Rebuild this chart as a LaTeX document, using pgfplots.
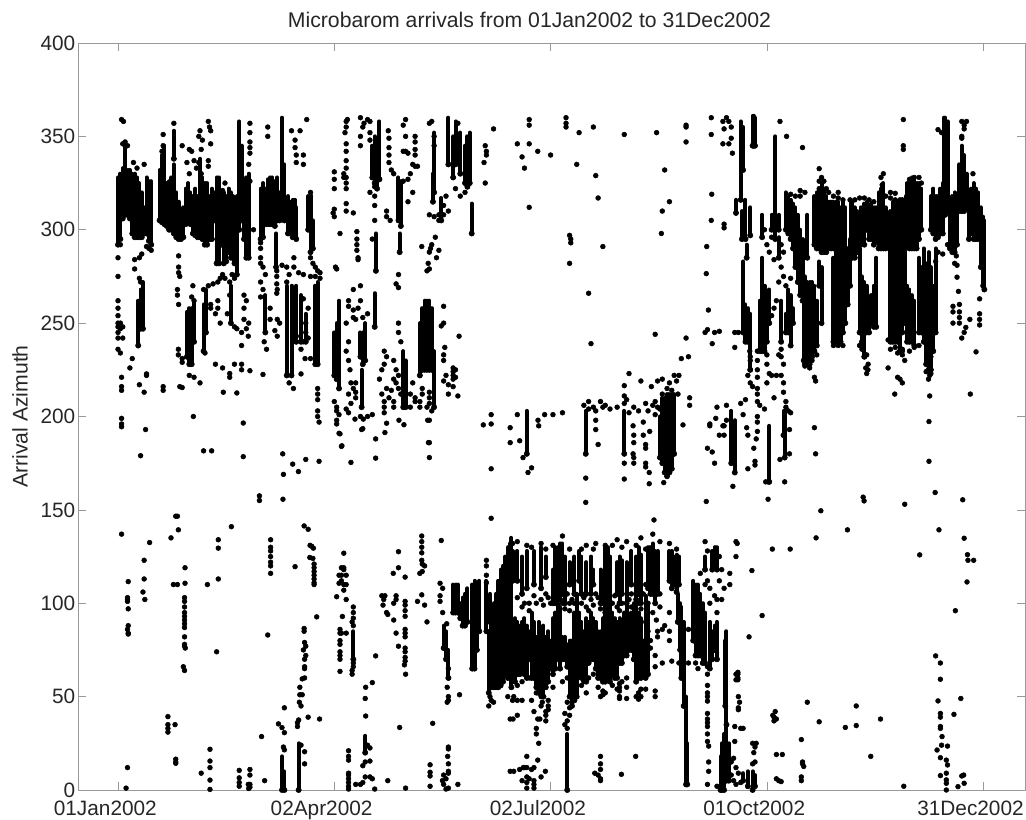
\documentclass[border=0pt]{standalone}
\usepackage{fontspec}
\setmainfont{Liberation Sans}
\usepackage{pgfplots}
\usepackage{pgfplotstable}
\pgfplotsset{compat=1.18}
% dense stretches of overlapping dots: day, lowest and highest azimuth of the stretch
\pgfplotstableread[row sep=\\]{
d lo hi\\
0 292 328\\ 1 295 330\\ 2 306 333\\ 3 308 346\\ 4 308 332\\ 5 306 332\\ 6 298 330\\ 7 296 330\\ 8 296 328\\ 9 296 325\\ 10 296 320\\ 11 298 312\\ 12 298 328\\ 13 294 326\\ 14 292 326\\
8.5 238 262\\ 9.5 247 268\\ 10.5 247 272\\
17.5 305 332\\ 18.5 304 340\\ 19.5 303 345\\ 20.5 302 325\\ 21.5 300 326\\ 22.5 300 328\\ 23.5 298 335\\ 23.5 338 353\\ 24.5 296 320\\ 25.5 295 315\\ 26.5 295 310\\
27.5 296 312\\ 28.5 303 322\\ 29.5 305 325\\ 30.5 303 320\\ 31.5 298 318\\ 32.5 297 322\\ 33.5 296 318\\ 34.5 296 338\\ 35.5 295 328\\ 36.5 292 325\\ 37.5 292 325\\ 38.5 295 318\\ 39.5 295 322\\ 40.5 305 320\\
41.5 282 328\\ 42.5 282 328\\ 43.5 292 320\\ 44.5 282 320\\ 45.5 283 318\\ 46.5 288 322\\ 47.5 285 320\\ 48.5 288 318\\ 49 282 316\\ 50 276 318\\ 51 300 358\\ 52 305 345\\ 53 295 320\\ 54 285 328\\ 55 285 330\\
29 232 256\\ 30 228 258\\ 31 228 258\\ 32 240 262\\ 36 235 260\\ 37 245 268\\ 47.5 250 270\\ 62 245 265\\
60 295 322\\ 61 296 325\\ 62 303 322\\ 63 303 327\\ 64 303 328\\ 65 303 328\\ 66 302 326\\ 67 305 328\\ 68 305 320\\ 69 320 360\\ 70 305 335\\ 71.5 298 318\\ 72.5 298 315\\ 73.5 296 316\\ 74.5 296 316\\ 75 295 312\\ 80 300 318\\ 81 288 318\\ 82 290 305\\ 66.5 280 298\\
71 222 270\\ 73 222 270\\ 75 240 270\\ 77 240 265\\ 79 240 255\\ 83 228 270\\ 84 228 272\\
107 328 345\\ 108 325 350\\ 109 322 345\\ 110 327 358\\ 108.5 278 298\\ 118 305 328\\ 119 302 326\\ 118.5 288 298\\ 133 320 352\\ 132.5 315 330\\ 136 305 317\\
139 335 360\\ 141 328 350\\ 142 335 358\\ 144 330 352\\ 146 325 345\\ 147 323 350\\ 148 325 352\\ 148.8 298 314\\
91 222 245\\ 92 220 250\\ 93 215 262\\ 103 228 245\\ 102 232 245\\ 104 230 250\\ 102.5 205 225\\ 108 248 266\\ 120 205 235\\ 121 205 230\\ 127 222 250\\ 128 225 258\\ 129 225 262\\ 130 225 262\\ 131 225 262\\ 132 225 258\\ 133 205 235\\
69 0 18\\ 70 0 10\\ 76 0 25\\ 99 70 85\\ 104 20 29\\
137 76 88\\ 138 70 85\\ 139 60 75\\ 141 95 110\\ 142 95 110\\ 143 95 110\\ 144 92 100\\ 145 88 103\\ 146 88 105\\ 147 90 108\\ 149 65 110\\ 150 65 112\\ 151 75 108\\ 152 85 112\\ 155 85 112\\ 156 52 85\\ 156.5 90 105\\ 157 55 95\\ 158 55 100\\ 159 55 105\\ 160 55 112\\ 161 56 118\\ 162 58 120\\ 163 62 125\\ 164 60 130\\ 165 65 132\\ 165.5 55 135\\
166 112 128\\ 168 112 128\\ 170 105 125\\ 172 108 128\\ 175 110 128\\ 178 108 130\\ 180 114 125\\ 183 100 118\\ 184 100 130\\ 185 102 130\\ 186 102 132\\ 187 105 132\\ 188 100 125\\ 190 110 122\\ 192 105 125\\ 194 112 128\\ 195 105 125\\ 197 105 122\\ 199 105 125\\ 200 110 118\\ 203 100 118\\ 205 95 130\\ 206 90 130\\ 207 88 125\\ 210 105 122\\ 211 100 125\\ 212 105 123\\ 214 100 122\\ 216 110 128\\ 218 102 125\\ 219 105 130\\ 220 100 126\\ 223 108 130\\ 224 105 130\\ 225 105 132\\ 226 100 128\\ 227 105 128\\ 232 112 128\\ 233 108 128\\ 234 110 125\\ 235 106 126\\ 236 110 125\\
167 58 92\\ 168 62 90\\ 169 62 88\\ 170 70 90\\ 171 62 92\\ 172 60 88\\ 173 70 85\\ 174 60 95\\ 175 60 90\\ 176 55 82\\ 177 52 90\\ 178 60 85\\ 179 50 88\\ 180 55 82\\ 181 58 85\\ 182 65 80\\ 183 62 92\\ 184 65 95\\ 185 70 100\\ 186 65 98\\ 187 70 82\\ 188 70 82\\ 189 66 78\\ 190 50 80\\ 191 45 80\\ 192 48 95\\ 193 50 105\\ 194 62 95\\ 195 60 90\\ 196 62 85\\ 197 58 92\\ 198 68 90\\ 199 70 95\\ 200 70 92\\ 201 65 90\\ 202 60 85\\ 203 60 85\\ 204 58 92\\ 205 58 100\\ 206 60 95\\ 207 58 100\\ 208 62 95\\ 209 60 92\\ 210 60 90\\ 211 68 92\\ 212 68 90\\ 213 72 95\\ 214 72 100\\ 215 75 90\\ 216 75 95\\ 217 70 100\\ 218 58 100\\ 219 60 95\\ 220 60 92\\ 221 62 80\\ 222 60 104\\ 223 62 100\\
235.5 90 105\\ 236.5 75 100\\ 237 60 98\\ 238 45 90\\ 239 3 50\\ 239.5 3 25\\ 242 80 112\\ 243 72 110\\ 244 72 110\\ 245 72 105\\ 246 68 100\\ 247 68 95\\ 249 65 90\\ 250 70 85\\ 251 75 88\\ 252 70 90\\ 247 118 125\\ 250 118 128\\ 251 120 130\\ 252 118 130\\ 255.5 45 80\\ 256 35 85\\ 253.5 0 18\\ 254 0 25\\ 255 0 30\\ 256 5 35\\ 257 5 25\\ 189 0 30\\ 267 0 10\\ 265 2 10\\ 263 5 9\\ 268 2 8\\
172 180 203\\ 196.8 180 203\\ 213 180 203\\ 228 178 200\\ 229 175 210\\ 230 170 210\\ 231 168 212\\ 232 170 212\\ 233 172 212\\ 234 180 212\\ 258 175 203\\ 259.5 170 198\\ 274 165 195\\ 280.5 178 203\\ 280 190 203\\
262 316 358\\ 263 332 355\\ 267 345 361\\ 267.5 345 361\\ 268 345 360\\ 260 309 316\\ 262.5 295 310\\ 264 295 316\\ 266 297 312\\ 264.5 285 292\\ 263 245 283\\ 264 240 260\\ 265 240 258\\ 266 225 255\\ 270 235 262\\ 271 235 285\\ 272 235 270\\ 273 240 265\\ 274 250 268\\ 271 296 308\\ 276.5 295 350\\ 275 300 308\\ 278 300 308\\ 278 285 296\\ 279 240 262\\ 281 245 255\\ 282 245 268\\ 283 238 265\\ 284 250 258\\
281 300 320\\ 282 298 318\\ 283 295 316\\ 284 290 314\\ 285 280 312\\ 286 272 308\\ 287 265 300\\ 288 262 295\\ 288.5 230 270\\ 289 228 275\\ 290 228 272\\ 291 228 272\\ 292 232 272\\ 293 235 270\\ 294 238 262\\ 290 285 308\\
293 292 318\\ 294 290 320\\ 295 290 322\\ 296 288 325\\ 297 288 322\\ 298 288 318\\ 299 290 315\\ 300 290 315\\ 301 290 315\\ 302 290 315\\ 303 290 315\\ 304 290 312\\ 305 290 315\\ 306 290 312\\ 295 270 283\\ 296 250 280\\
301 240 285\\ 302 240 290\\ 303 240 290\\ 304 240 290\\ 305 245 290\\ 306 250 290\\ 307 260 290\\ 308 270 295\\ 308.5 288 315\\ 309 285 315\\ 310 285 312\\ 311 288 310\\ 312 245 290\\ 313 240 275\\ 314 232 272\\ 315 245 270\\ 316 245 262\\ 317 250 265\\ 318 248 270\\ 319 248 285\\
312.5 292 312\\ 314 292 314\\ 315 300 315\\ 316 295 312\\ 317 295 314\\ 318 292 312\\ 319 294 312\\ 320 290 320\\ 321 290 322\\ 322 290 325\\ 323 290 312\\
325 240 310\\ 326 240 315\\ 327 240 315\\ 328 240 315\\ 329 235 310\\ 330 245 315\\ 331 250 300\\ 331.5 300 318\\ 332 295 325\\ 333 290 325\\ 334 290 328\\ 335 290 328\\ 336 290 325\\ 337 295 325\\ 338 300 322\\ 332 240 270\\ 333 240 268\\ 334 240 265\\ 335 238 262\\
337 245 285\\ 338 245 280\\ 339 240 290\\ 340 228 282\\ 341 225 288\\ 342 225 280\\ 343 235 270\\ 344 245 290\\ 342 300 318\\ 343 298 322\\ 344 295 318\\ 345 296 318\\ 346 298 322\\ 347 298 325\\ 347.5 310 360\\ 348 308 360\\ 349 310 358\\ 350 290 315\\ 351 288 318\\ 352 288 320\\ 353 292 312\\ 354 310 335\\ 355 310 345\\ 356 310 340\\ 357 312 330\\ 358 295 318\\ 359 298 322\\ 360 295 325\\ 361 295 322\\ 362 295 320\\ 363 280 312\\ 364 270 307\\ 364.5 268 305\\
}\runs
\begin{document}
\begin{tikzpicture}[x=1pt,y=1pt]
\path[use as bounding box] (-58.5pt,-22.5pt) rectangle (711pt,592.5pt);
\begin{axis}[
  at={(0,0)},anchor=south west,
  scale only axis,width=710.25pt,height=560.25pt,
  xmin=-16.83,xmax=381.6,ymin=0,ymax=400,
  xtick={0,91,182,273,364},
  xticklabels={01Jan2002,02Apr2002,02Jul2002,01Oct2002,31Dec2002},
  ytick={0,50,...,400},
  tick align=inside,
  major tick length=6pt,
  axis line style={gray!80,line width=0.7pt},
  tick style={gray!80,line width=0.5pt},
  /pgf/number format/assume math mode=true,
  tick label style={font=\fontsize{15.6}{18}\selectfont,text=black!85},
  xticklabel style={xshift=-9.5pt,yshift=-4.5pt},
  yticklabel style={xshift=1.5pt},
  title={Microbarom arrivals from 01Jan2002 to 31Dec2002},
  title style={font=\fontsize{15.9}{18}\selectfont,text=black!85,at={(axis description cs:0.4768,1)},anchor=south,yshift=2pt},
  ylabel={Arrival Azimuth},
  ylabel style={font=\fontsize{15.9}{18}\selectfont,text=black!85,at={(axis description cs:-0.0613,0.5)},anchor=center},
]
\addplot[only marks,mark=none,forget plot,
  error bars/.cd,y dir=plus,y explicit,error mark=none,
  error bar style={black,line width=3pt,line cap=round}]
  table[x=d,y=lo,y error expr=\thisrow{hi}-\thisrow{lo}] {\runs};
\addplot[only marks,mark=*,mark size=1.8pt,black,mark options={draw=none,fill=black}] coordinates {
(1.5,359)(2.3,358)(2,346)(3,347)(4,345)(6.5,336)(8,333)(11,335)(0,285)(0,275)(1,292)(9,285)(7,284)(7,279)(9,274)(9.5,272)(12,291)(13,290)(14,289)(10,287)
(0,262)(0,258)(0,254)(0,250)(0,248)(0,245)(0,242)(1,247)(1,250)(0,236)(1,234)(2,242)(2,248)(1.5,221)(1.5,216)(1.5,214)(6,231)(5,226)(9,217)(11,213)(12,222)
(19,351)(18.5,342)(19,345)(23.5,357)(27,345)(30,343)(31,342)(32,337)(34,336)(29,336)(30,330)(33,333)(35,330)(35,343)(34,350)(34.5,353)(35.5,348)(38,358)(38.5,355)(39,353)(39,346)(38,337)(38,334)
(55.5,357)(55.5,352)(55.5,347)(55.5,344)(55.5,341)(55,335)(55.5,326)(45,325)(44,321)(57,300)(60,293)(60,290)(60,285)
(25.5,286)(25.5,280)(25.5,277)(26,275)(25,268)(25,265)(25.5,260)(31.5,270)(31,264)(32,262)(36,268)(38,270)(40,271)(42,272)(43,274)(44,276)(45,274)(47,272)(48,276)(49,274)(53,258)(53,265)(54,262)(53,252)(54,247)(55,250)(52,245)(49,248)(50,247)(43,250)(41,255)(39,258)(39,260)(42,258)(42,262)(47,265)(46,255)
(63,355)(63,350)(73,353)(79.4,359)(76.6,353)(74.5,348)(74.5,344)(75,340)(75,336)(78,340)(78,335)(81,285)(82,282)(83,280)(84,278)(85,277)(81,320)(81,318)
(66.8,278)(66.8,275)(66.8,271)(67,268)(66.8,266)(60,282)(61,280)(62,276)(60,272)(61,268)(60,264)(69,281)(71,280)(72,276)(71,272)(74,285)(74,280)(76,277)(78,276)(81,275)(83,275)(85,274)(78,263)(80,258)(79,250)(79,245)(80,242)(75,243)(78,240)(77,236)
(64,252)(64,258)(61.5,240)(62.5,236)(66,246)(67,243)(67,252)(68,250)
(96,358)(96,355)(95.5,352)(96.5,359)(96,346)(96,342)(96,337)(96,333)(95,330)(96,328)(95,328)(96,325)(91,331)(91,327)(91,322)(91,311)(91,307)(90.5,309)(96,322)(96,314)(96,310)(99,309)(93.4,298)
(100.5,299)(100.5,295)(100.5,292)(100.5,289)(101,285)(101,284)(92,279)(91.5,280)(102,360)(103,355)(102,350)(103.5,357)(105,359)(106,358)(106,352)(102,345)(106,348)(108,323)(108,318)(108,313)(108,305)(106,320)(107,295)
(113.7,353)(114,349)(114,344)(114,340)(114,336)(115,332)(116,330)(118,276)(117,271)(118,269)(113,310)(113,307)(114.5,305)
(121,359)(120,356)(121,350)(121,342)(122,341)(120,342)(125,350)(125,347)(125,343)(125,340)(124,335)(125,334)(126,334)(123,330)(122,327)(120,326)(124,320)(122,315)
(131,357)(132,358)(133,350)(133,345)(131,308)(133,307)(135,308)(137,308)(137,313)(138,318)(139,310)(135,305)(133.5,296)(131.5,290)(132,292)(131,288)(134,285)(131,279)(130,278)(130.5,282)(127.8,291)(135,289)
(143,357)(146,320)(144,318)(142,322)(154.5,345)(155,342)(155,340)(154,336)(154.5,325)(158,354)
(168,346)(170,339)(171,333)(173,359)(173,356)(173,346)(173,312)(176.6,342)(182,340)(188.5,360)(188.5,357)(188.5,355)(194,352)(200,355)(193,335)(201,329)(202,317)(190,297)(190.5,295)(190.5,293)(190,282)(204,291)(198,266)(199,239)
(213,351)(226.6,352)(230,332)(232,315)(229,310)(228.6,298)(226,244)(239,356)(239,355)(239,347)(249.6,360)(249.6,351)(249.8,319)(249.6,305)(255,303)(255,301)(247.7,291)(247.5,276.5)(248.4,257)
(254.5,358)(255,354)(256,360)(257,358)(258,355)(254.5,346)(257,346)(258,349)(258.5,341)
(330.4,359)(330.4,345)(330.4,343)(288,344)(278.5,358)(281.3,350)(295,332.7)(295,326)(297,326)(287,321)(289,320)(299,320)(303,320)(321.5,324)(325,320)(327,319.5)(355,358)(356,356)(357,358)(356,354)(355,350)(355,349)(345,353.6)(346.5,352)(359.7,330)(352.7,286)(352,282)(353,281)(353,274.6)(353.6,267)(362.5,263)(351.3,259)(351.3,256)(354,260)(354,256)(354,253)(354,250)(362.5,255)(362.5,252)(362.5,249)(351.3,250)(358.4,252)(356.7,247.7)(356,245)(355,242)(361,234.6)(358.6,212)
(341.5,222)(341.5,211)(326.8,212)(328,221)(329,220)(330,218)(324,226)(315.6,228)(315.5,225)(315,223)(314.6,226)(293,221)(293.5,219)(331,230)(330,233)(330,235)(337,238)(342,232)(341,236)
(265.8,235)(266,232)(266,230)(266,225)(265,222)(266,218)(267,216)(269,235)(269,230)(269,225)(269,221)(269,215)(269,212)(269,208)(273,233)(273,228)(274,223)(273,218)(275,222)(277,222)(279,222)(280,228)(279,232)(278,233)(279,236)(280,218)(280,213)(281,208)(281,205)(282,203)
(259.5,237)(250,239)(253,245.6)(251,245)(247,245)(248,246.5)(259.5,245)(261,245)(239,242)(237,231)(240,232)
(215,223)(220,219)(213,216.5)(213,211)(214,209)(213,207)(224.4,216)(227,219)(229,220)(232,218)(231,215)(233,214)(235,219)(234,222)(236,222)(235.6,212)(240.5,210)(240.5,206)
(225,206)(226,208)(227,205)(229,212)(228,204)(226,201)(223,203)(222,207)(219,203)(217,205)(215,202)(210,205)(207,204)(205,206)(204,205)(203,208)(200,205)(198,208)(196,206)(198,204)
(168,201)(169,187)(170.4,178)(172.5,170)(174,172.5)(176.7,198)(177,195)(179.5,201)(183,201)(187,202)(201,198)(201,203)(201,193)(202,185)(196.8,167)(196.8,154)(213,175)(213,166.5)
(216.7,195)(217,190)(217,186)(216.7,180)(217,178)(217,175)(221,197)(221,190)(222,183)(222,175)(223.7,192)(222,185)(223.5,170)(223.5,164)(222,173)(229.6,164.6)(247.5,154.5)(225.5,144.6)(237.7,195.5)
(249,196)(248,183)(250,181)(251,175)(249,195)(253,190)(251.5,199)(256,198)(255,195)(254.5,195)(255,190)(258.7,162.6)(264.5,194)(265,190)(269,197)(269,192)(268.5,188)(267.5,183)(268,176)(268,174)(265,172)(269,200)(263,201)(272.5,165)(273.5,165)(273.5,155.7)(280.5,165)(282.5,193)(282.5,180)(278.5,177)(283,202)(293,194)(293.5,180)(272,204)(276,210)(270,206)(264,209)(262,207)(256,206)(252,205)
(96,250)(97,240)(96,235)(97,230)(97.6,225)(98,218)(97,212)(99,215)(100,213)(98,207)(96,204)(100,218)(100,210)(92,205)(92,203)(91,208)(93,201)(97,202)(102,200)(105,200)(99,257)(97,259)(99,253)(100,252)(103,253)(105,255)(101,258)(102,262)(97,262)(99,268)(102,270)
(110,220)(111,212)(112,208)(112,205)(112,202)(113,215)(114,210)(115,214)(116,208)(116,220)(117,218)(116,205)(118,222)(118,215)(119,212)(123,205)(123,212)(124,218)(125,210)(125,208)(127,208)(127,205)(128,215)(128,212)(131,213)(131,210)(131,207)(130,205)(132,203)(131,198)(131,186)(131,178)(112,235)(113,232)(112,228)(111,225)(116,230)(117,225)(119,240)(118,245)(118,250)
(137,259)(137.5,237)(137,233)(137,230)(138,222)(137,219)(139,217)(139,212)(141,220)(141,226)(141,222)(141,224)(141,216)(143.5,243)(142,225)(142,221)(143,211)(136,248.5)(137,250)(153.7,195.5)(157,201)(157,196)(157,172)(165,194)(165,186)(157,145.5)
(1.5,199)(1.5,196)(1.5,194.5)(11.6,193)(9.5,179)(31.7,200)(36,181.6)(39.4,181.6)(52.7,196.5)(52.7,178.5)(69.3,180)(69.6,169)(73.5,174.5)(75.9,170.5)(79,177)(84.6,176)(84.6,197)(84,203)(59.5,157.5)(59.5,155)(69.4,155.7)(98,175.4)(108.4,177.7)(108.4,188)(112.3,191.4)(113,196.4)(99.7,198.6)(103.2,198.6)(102.5,193)(103,193.5)(107,201)(118.2,198)(120.3,195.6)(93.4,190.7)(94.2,184.3)(92,198)(92,196)(93,191)(94,184)(130.6,186)(130.3,198)
(44.3,213)(50,212.6)(61,222.5)(12,222.8)(19,216)(19,214)(26,216)(27,215.5)(34.5,218)(30,222)(32,221)(41,228)(44,226)(47,223)(47,221)(49,228)(52,228)(52,225)(55.5,224.5)(52,238)(54.8,243)(36.6,234)(77,222.8)(78.7,231)(81,231)(73.8,215)(72,218)(84,215)(84,212)(84,209)(84,200)(25.4,236)(25.4,233)(27,231)(27,229)
(1.5,137)(4.3,111.6)(4,103)(4,102)(4,101)(4.3,97)(4.3,88)(4,86)(4.3,84)(4.3,83.5)(11,123)(11,113)(10.5,106)(11.3,102)(13.3,132.5)(22.3,135)(24.3,146.6)(25,146.6)(25.4,139.3)(23.3,110)(25,110)(28.2,119)(28.2,110.7)
(28,103)(28,101)(28,98)(28,95)(28,93)(28,91)(28,89)(28,87)(28,82)(28,78)(28,77)(28.3,76)(27.5,66)(28,64)(37.6,110)(42.2,113)(42.2,134)(42.2,129.5)(41.5,74)(47.7,141)
(64.2,134)(64.2,130)(64.2,128)(64.2,125)(64.2,122)(64.2,120)(64.2,116)(63,83)(74.5,119.6)(78.3,141.4)(80,139.6)(80.8,131)(81.5,130.5)(82.2,129.5)(80.7,124.5)(82,124)(82.5,121)(82.5,119)(82.5,117)(82.5,115)(82.5,113)(82.5,111)(82.5,110)(83.6,92.7)
(78.3,86.5)(78.3,85)(78.5,79)(79,77)(78,75)(79,72)(78.5,70)(78.5,66)(78.5,65)(78.5,60)(77.5,59.5)(76.5,55)(76.5,51)(77.5,51)(76.3,47)(77,45)(80,39)(76,37.5)(75.5,36)(75.5,34)(84.8,38)
(70,44)(67.5,35.4)(69,33.4)(70,30.7)(60.4,28.6)(69.6,23)(70,21.5)(77,24)(78.5,20.5)(78.5,14)(61.7,5)
(51,10.5)(51,6.5)(51,4)(51,2)(55.5,11)(55.5,8)(55.5,3)(55.5,1.5)(55,0.8)(54.8,3)(38.7,21.8)(38.7,15.5)(38.7,12)(38.7,5.3)(38.7,0.3)(35,9)(21,39.3)(21,35)(21,33)(21,31)(24,35)(24.3,16.5)(24.3,15)(24.3,14.3)(4,12)(3.4,1)
(92,103.5)(93.4,86)(93.4,84)(93.4,80)(93.4,78)(93.4,74)(93.4,72)(93.4,70)(93.4,63.5)(95,126.8)(94,119)(95,119)(95,118)(94,115)(96,115)(94,112)(95,110)(96,110)(95,107)(96,102)(93,115)(93,110.7)(94.4,92.9)(96,84)(94,84)
(99,98)(99,95)(99,92)(98.5,90)(99,88)(99,66)(98.5,64)(98.5,62)(99,68)(104.2,55)(107,57.5)(104,49)(104.2,39.6)(105,24)(106,22.5)(106,15.5)(104,15)(103,13)(104,7)(106,7)(107,6)(103,4)(102,3)(100,3)(108,0.5)(113.5,5)(108.4,71.8)
(97,21)(97,18)(97,16)(97,9)(97,8)(97,6)(97,4)(97,2)(97,0.5)
(111,104)(112.3,104)(111.8,102)(111.5,99)(113,95)(113.5,94)(115.8,116)(117,104)(117,102)(116,100)(118,119)(118,127.6)(116,91)(117,84)(118,77)(120.5,67)(121,62)
(120.8,101)(120.8,99)(120.8,96)(120.8,93)(120.8,86)(120.8,84)(120.8,82)(120.8,76)(120.8,74)(120.8,71)(120.8,69)(120.8,114)(118.5,33.5)(121,1)(126,101)(127.8,136)(127.8,133)(127.8,130)(127.8,127)(127.8,123)(128,121)(129,120)(127,116)(128,117)(127.8,104.5)(129,99)(130,90)(132.4,35.7)(131.3,13.5)(131.3,9.5)(131.3,7.5)(131.3,2)
(136,133.6)(135.5,110.7)(136.6,108)(135.5,104)(135.5,101)(136.6,95)(138.3,89)(139,65)(139,60)(138.5,55)(139,50)(139,48)(138.5,47)(143.7,51)
(155,123)(155,120)(155,115)(155,111)(156.5,50)(157,48)(158,47)(156,45)(164,50)(166,48)(165,38)(168,40)(165,10)
(139,23)(139,22)(138.7,18)(139,14)(139,10)(139,9)(137,8)(138,6)(136.5,5)(137,3)(139,1)(138,0.5)(143,3)
(173,100)(175,104)(168,103)(170,98)(178,102)(180,105)(182,100)(189,105)(190,100)(192,100)(197,98)(199,102)(201,105)(204,100)(210,98)(212,100)(214,95)(216,105)(218,95)(221,105)(223,100)(225,95)(226.5,91)(228,105)(227,82)(227,85)(229,86)(232,85)(232,80)(232,95)(233,69)(236,68)(229,68)(222,90)(224,80)(224,76)(223,85)(226,72)(226,66)
(260,133)(260.5,132)(260,125)(257.4,116)(257.4,110)(266.7,117.5)(271,93.4)(265.5,82)(260.8,63)(260.8,60)(260.8,62)(260.8,59)(261,50)(261.5,47)(260,62)(260,59)(261,44)(261,43)
(248,66)(248,62)(248,56)(248,52)(248,50)(248,47.6)(248,41)(248,38)(248,36)(248,34)(248,30)(248,26)(248.5,23.5)(248.5,15)(248.5,10)(248,3)(240,86)(243,68)(240,68)(244,65)(252,102)(253,112)(252,95)(254,102)(253,125)(255,108)(254,118)(248,112)(249,108)(249,100)(251,104)(247,110)(245,116)(248,128)(247,133)
(268,23)(268.5,25)(267,25)(267.5,20)(268,15)(267,14)(259.5,34)(262,33)(263,33)(259.5,26)(259,17)(258,15)(260,12)(258,8)(259,5)(252,2)(262,4)(261,9)(260,3)
(275.5,40)(276.5,42)(276,39)(277,38)(276,37)(277,19)(279.5,19)(277,6)(278,5)(279,4.5)(287.5,27)(288,15)(288,14)(288.5,12.6)(287.5,7)(287.5,5)(290,47)(295,36.5)(306,33.5)(310.6,34.5)(310.6,45)(320.8,38)(316.7,18)(330.6,2)
(344,71.8)(346,68)(346,59.3)(345,47.7)(346,41)(346,39)(346,34)(346,33)(346.7,28.6)(346.5,24)(349,23.5)(344.6,21.4)(346,17.3)(348.5,16)(349,13.4)(348.5,9)(346,7.7)(348.5,5.4)(348.5,0)(348.5,3.6)(353.4,1.8)(355.8,8)(355,7.5)(356,3.6)(354.6,49)(351.7,40.5)(352.3,96)(357.4,126)(357.6,123)(360,123)(357.2,111.4)(356,134.8)(345.4,139.3)(337.3,125.9)(355.4,155.4)(343.8,159.3)(331,153)(313.5,156.8)(313.9,154.8)(295.7,149.5)(293.7,135)(306.9,139.3)(275.3,129)(282.8,129)(341.2,197.3)(341.2,176)
(189,47)(191,47)(190,44)(190,40)(188,41)(189,37)(188,35)(189,33)(203,18)(203,14)(203,11)(200.6,9)(202,8)(203,6)(203,5)(211.8,8.4)(217.8,18)
(172,18)(171,12)(173,6)(172,4)(172,1)(175,1)(175,3)(176.6,16)(175,12)(179.8,10)(178,7)(172,12)(169,11)(170.5,12)(174,11)(166.5,10)(175,5)(170,5)(172,7)
(170,48)(174,48)(175,42)(178,45)(180,40)(177.5,38)(176.6,38)(176,33)(176,30)(177,25)(180,37)(178.5,47)(181,45)(181,43)(180,42)(166.2,38)(166.5,50)(168,48)
(203,50)(204,51)(197,52)(205,52)(220,50)(220,54)(214,55)(214,49)(219,48.6)(226,53)(226,50)(211,57)(211,55)(211,53)(211,50)(211,49)(222,54)
(283,319)(285,318)(287,318)(295,322)(296,328)(298,322)(301,318)(303,317)(305,316)(308,316)(310,316)(312,317)(314,317)(316,316)(318,315)(321,328)(322,330)(323,318)(325,317)(327,316)(329,316)(330,316)(333,327)(335,328)(337,328)(338,325)
(289,232)(289,227)(291,226)(292,230)(294,233)(301,238)(303,238)(305,238)(312,238)(313,236)(314,232)(315,233)(324,241)(325,236)(327,237)(328,234)(330,236)(333,235)(335,237)(342,223)(341,220)(340,224)(344,283)(345,288)(347,287)(349,292)
(272,300)(273,292)(274,288)(275,296)(276,284)(279,292)(280,288)(279,280)(280,275)(278,272)(281,270)(283,274)(277,262)(276,258)(275,254)
(166,132)(168,133)(172,131)(174,130)(178,132)(180,129)(183,131)(187,136)(190,129)(195,129)(197,131)(200,129)(201,132)(205,131)(208,131)(210,134)(212,130)(214,133)(218,131)(220,135)(222,129)(225,137)(228,133)(232,132)(235,129)
(171,100)(173,96)(176,100)(179,99)(181,103)(187,100)(188,97)(190,96)(191,102)(195,100)(196,103)(198,96)(200,99)(202,103)(203,97)(208,100)(209,104)(211,96)(215,102)(216,98)(219,100)(220,97)(222,110)(226,110)(228,98)(230,88)
(168,56)(170,58)(173,60)(176,52)(178,50)(181,48)(183,55)(187,58)(189,60)(195,56)(196,58)(198,60)(200,62)(202,55)(204,53)(208,56)(210,54)(212,58)(214,60)(218,50)(219,52)
};
\end{axis}
\end{tikzpicture}
\end{document}
